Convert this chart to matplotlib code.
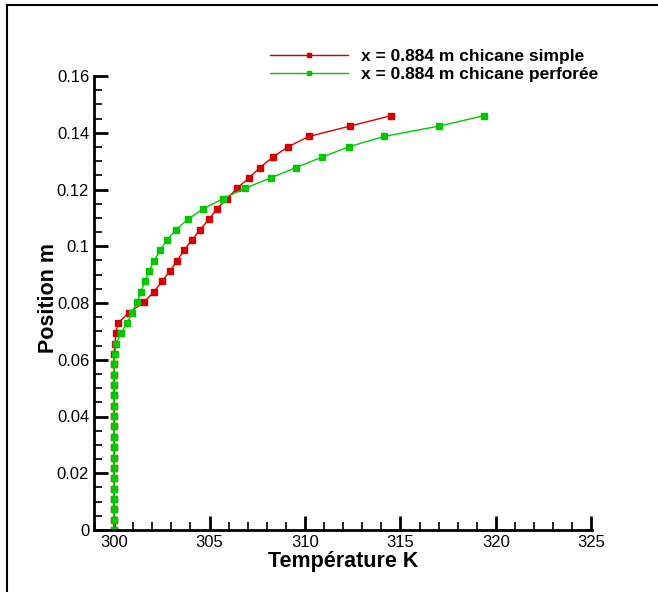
import matplotlib.pyplot as plt
from matplotlib.lines import Line2D
from matplotlib.ticker import MultipleLocator, FuncFormatter

plt.rcParams['font.family'] = ['Liberation Sans', 'DejaVu Sans']

# position along the channel (m), same grid for both cases
position = [0.0, 0.00365, 0.0073, 0.01095, 0.0146, 0.01825, 0.0219, 0.02555,
            0.0292, 0.03285, 0.0365, 0.04015, 0.0438, 0.04745, 0.0511, 0.05475,
            0.0584, 0.06205, 0.0657, 0.06935, 0.073, 0.07665, 0.0803, 0.08395,
            0.0876, 0.09125, 0.0949, 0.09855, 0.1022, 0.10585, 0.1095, 0.11315,
            0.1168, 0.12045, 0.1241, 0.12775, 0.1314, 0.13505, 0.1387, 0.14235,
            0.146]

# temperature (K)
temp_simple = [300.0, 300.0, 300.0, 300.0, 300.0, 300.0, 300.0, 300.0,
               300.0, 300.0, 300.0, 300.0, 300.0, 300.0, 300.0, 300.0,
               300.0, 300.0, 300.05, 300.1, 300.21, 300.79, 301.57, 302.09,
               302.51, 302.93, 303.3, 303.66, 304.08, 304.5, 304.97, 305.39,
               305.92, 306.44, 307.07, 307.64, 308.32, 309.11, 310.21, 312.36,
               314.5]
temp_perf = [300.0, 300.0, 300.0, 300.0, 300.0, 300.0, 300.0, 300.0,
             300.0, 300.0, 300.0, 300.0, 300.0, 300.0, 300.0, 300.0,
             300.0, 300.05, 300.1, 300.37, 300.68, 300.94, 301.2, 301.41,
             301.62, 301.83, 302.09, 302.41, 302.77, 303.25, 303.87, 304.66,
             305.71, 306.86, 308.22, 309.53, 310.89, 312.3, 314.14, 317.02,
             319.37]

label_simple = 'x = 0.884 m chicane simple'
label_perf = 'x = 0.884 m chicane perforée'
red = '#d20000'
green = '#00c800'

fig = plt.figure(figsize=(6.58, 5.92), dpi=100)
ax = fig.add_axes([94 / 658, 1 - 530 / 592, (592 - 94) / 658, (530 - 76) / 592])

ax.plot(temp_simple, position, color=red, lw=1, marker='s', ms=4.2, mec=red)
ax.plot(temp_perf, position, color=green, lw=1, marker='s', ms=4.2, mec=green)

ax.set_xlim(298.95, 325.03)
ax.set_ylim(0, 0.16)
ax.xaxis.set_major_locator(MultipleLocator(5))
ax.xaxis.set_minor_locator(MultipleLocator(1))
ax.yaxis.set_major_locator(MultipleLocator(0.02))
ax.yaxis.set_minor_locator(MultipleLocator(0.005))
ax.yaxis.set_major_formatter(FuncFormatter(lambda v, p: '%g' % round(v, 3)))
ax.tick_params(which='major', direction='in', length=10, width=2, labelsize=12)
ax.tick_params(which='minor', direction='in', length=6, width=1.2)
ax.spines['top'].set_visible(False)
ax.spines['right'].set_visible(False)
ax.spines['left'].set_linewidth(2)
ax.spines['bottom'].set_linewidth(2)

ax.set_xlabel('Température K', fontsize=15.5, fontweight='bold', labelpad=1)
ax.set_ylabel('Position m', fontsize=15.5, fontweight='bold')
ax.yaxis.set_label_coords(-0.07, 0.51)

handles = [Line2D([], [], color=red, lw=1, marker='s', ms=3),
           Line2D([], [], color=green, lw=1, marker='s', ms=3)]
fig.legend(handles, [label_simple, label_perf], loc='upper left',
           bbox_to_anchor=(254 / 658, 1 - 33 / 592), frameon=False,
           prop={'size': 12.5, 'weight': 'bold'}, handlelength=4.5,
           handletextpad=0.75, labelspacing=0.2, numpoints=1)

# outer frame (left and top edges)
fig.add_artist(Line2D([7 / 658, 7 / 658], [0, 1 - 5 / 592], color='black', lw=1.5))
fig.add_artist(Line2D([7 / 658, 1], [1 - 5 / 592, 1 - 5 / 592], color='black', lw=1.5))

fig.savefig('out.png', dpi=100)
